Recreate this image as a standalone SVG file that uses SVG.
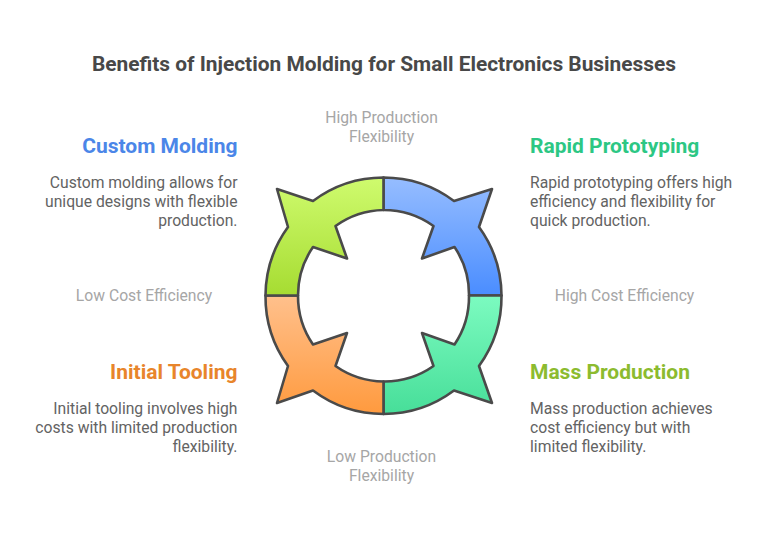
<svg xmlns="http://www.w3.org/2000/svg" width="768" height="542" viewBox="0 0 768 542">
<style>
text{font-family:Roboto,"Liberation Sans",sans-serif}
.t{font-size:20.9px;font-weight:700;fill:#484848;text-anchor:middle}
.h{font-size:21px;font-weight:700}
.b{font-size:15.7px;fill:#636363}
.a{font-size:15.7px;fill:#a6a6a6;text-anchor:middle}
.e{text-anchor:end}
.seg{stroke:#4a4a4a;stroke-width:2.6;stroke-linejoin:round}
</style>
<defs>
<linearGradient id="gb" x1="0" y1="0" x2="0" y2="1"><stop offset="0" stop-color="#96bdff"/><stop offset="1" stop-color="#4a8dff"/></linearGradient>
<linearGradient id="gg" x1="0" y1="0" x2="0" y2="1"><stop offset="0" stop-color="#7cfbc0"/><stop offset="1" stop-color="#47de99"/></linearGradient>
<linearGradient id="go" x1="0" y1="0" x2="0" y2="1"><stop offset="0" stop-color="#ffc08c"/><stop offset="1" stop-color="#ff9a3e"/></linearGradient>
<linearGradient id="gl" x1="0" y1="0" x2="0" y2="1"><stop offset="0" stop-color="#cffb6e"/><stop offset="1" stop-color="#a6dc32"/></linearGradient>
</defs>
<rect width="768" height="542" fill="#fff"/>
<text class="t" x="384" y="71">Benefits of Injection Molding for Small Electronics Businesses</text>
<g id="connectors"></g>
<g id="rapid-prototyping-arc"><path class="seg" fill="url(#gb)" d="M383.5 177.5A118 118 0 0 1 454 201L492 189L479 227A118 118 0 0 1 501.5 295.5L469 295.5A85.5 85.5 0 0 0 454.5 247L422 258.500L433.500 226A85.5 85.5 0 0 0 383.5 210Z"/></g>
<g id="mass-production-arc"><path class="seg" fill="url(#gg)" d="M501.5 295.5A118 118 0 0 1 479 366L492 403L454 390.500A118 118 0 0 1 383.5 414L383.5 381.500A85.5 85.5 0 0 0 433.5 366L422 333L454.5 344.500A85.5 85.5 0 0 0 469 295.5Z"/></g>
<g id="initial-tooling-arc"><path class="seg" fill="url(#go)" d="M383.5 414A118 118 0 0 1 313 390.500L277 403L288 366A118 118 0 0 1 265.5 295.5L298 295.5A85.5 85.5 0 0 0 313 344.500L347 333L335.500 366A85.5 85.5 0 0 0 383.5 381.500Z"/></g>
<g id="custom-molding-arc"><path class="seg" fill="url(#gl)" d="M265.5 295.5A118 118 0 0 1 288 227L277 189L313 201A118 118 0 0 1 383.5 177.5L383.5 210A85.5 85.5 0 0 0 335.5 226L347 258.500L313 247A85.5 85.5 0 0 0 298 295.5Z"/></g>
<g id="custom-molding">
<text class="h e" x="237.500" y="152.500" fill="#4b86e8">Custom Molding</text>
<text class="b e" x="237.500" y="188">Custom molding allows for</text>
<text class="b e" x="237.500" y="207">unique designs with flexible</text>
<text class="b e" x="237.500" y="226">production.</text>
</g>
<g id="rapid-prototyping">
<text class="h" x="530" y="152.500" fill="#2cc784">Rapid Prototyping</text>
<text class="b" x="530" y="188">Rapid prototyping offers high</text>
<text class="b" x="530" y="207">efficiency and flexibility for</text>
<text class="b" x="530" y="226">quick production.</text>
</g>
<g id="initial-tooling">
<text class="h e" x="237.500" y="378.500" fill="#e8852b">Initial Tooling</text>
<text class="b e" x="237.500" y="414">Initial tooling involves high</text>
<text class="b e" x="237.500" y="433">costs with limited production</text>
<text class="b e" x="237.500" y="452">flexibility.</text>
</g>
<g id="mass-production">
<text class="h" x="530" y="378.500" fill="#8cbb2f">Mass Production</text>
<text class="b" x="530" y="414">Mass production achieves</text>
<text class="b" x="530" y="433">cost efficiency but with</text>
<text class="b" x="530" y="452">limited flexibility.</text>
</g>
<g id="axis-labels">
<text class="a" x="381.500" y="123">High Production</text>
<text class="a" x="381.500" y="142">Flexibility</text>
<text class="a" x="381.500" y="461.500">Low Production</text>
<text class="a" x="381.500" y="480.500">Flexibility</text>
<text class="a" x="144" y="301">Low Cost Efficiency</text>
<text class="a" x="624.500" y="301">High Cost Efficiency</text>
</g>
</svg>
